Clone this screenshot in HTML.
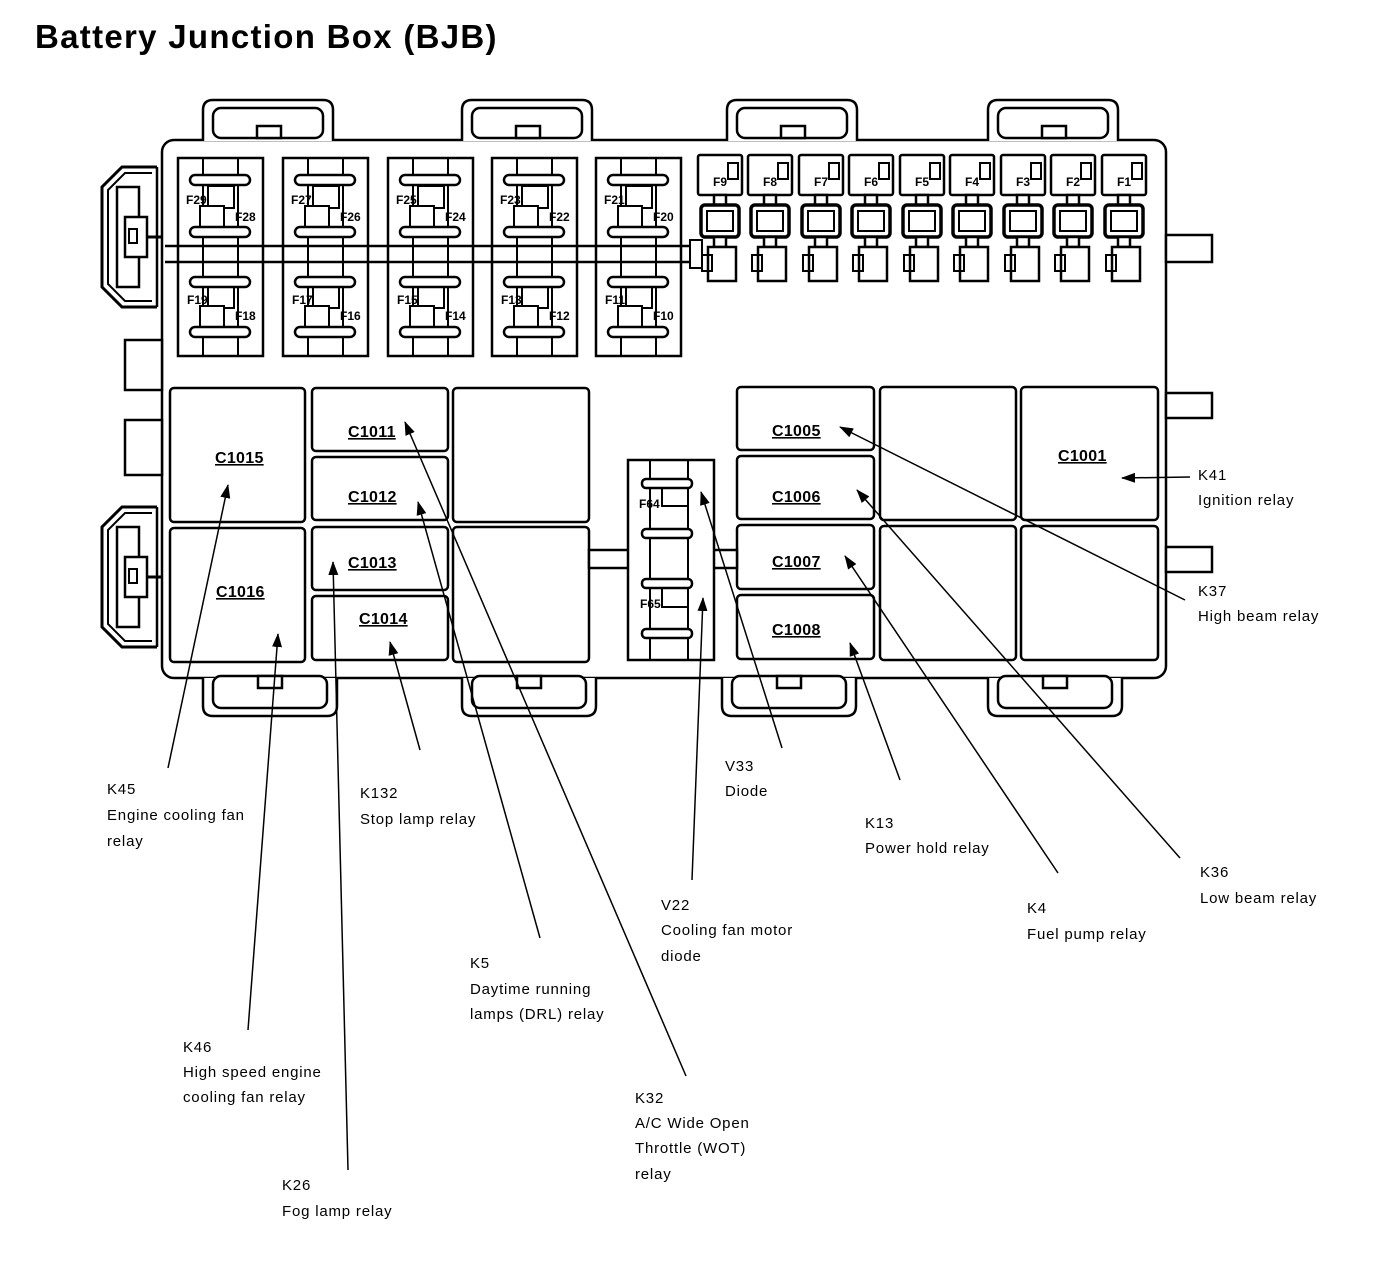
<!DOCTYPE html>
<html><head><meta charset="utf-8"><style>
html,body{margin:0;padding:0;background:#fff;}
svg{display:block;}
text{font-family:"Liberation Sans",Arial,sans-serif;fill:#000;}
.lb{font-size:15px;letter-spacing:0.8px;}
.cn{font-size:16px;font-weight:bold;letter-spacing:0.3px;}
.fs{font-size:12px;font-weight:bold;}
</style></head><body>
<svg width="1376" height="1266" viewBox="0 0 1376 1266" xmlns="http://www.w3.org/2000/svg">
<defs>
<marker id="ah" markerWidth="14" markerHeight="10" refX="13" refY="5" orient="auto" markerUnits="userSpaceOnUse">
<path d="M0,0 L14,5 L0,10 Z" fill="#000"/>
</marker>
<g id="lf">
<rect x="0" y="0" width="85" height="198" fill="#fff" stroke="#000" stroke-width="2.5"/>
<rect x="25" y="0" width="35" height="198" fill="none" stroke="#000" stroke-width="2"/>
<rect x="30" y="28" width="26" height="22" fill="#fff" stroke="#000" stroke-width="2"/>
<rect x="22" y="48" width="24" height="22" fill="#fff" stroke="#000" stroke-width="2"/>
<rect x="30" y="128" width="26" height="22" fill="#fff" stroke="#000" stroke-width="2"/>
<rect x="22" y="148" width="24" height="22" fill="#fff" stroke="#000" stroke-width="2"/>
<rect x="12" y="17" width="60" height="10" rx="5" fill="#fff" stroke="#000" stroke-width="2.5"/>
<rect x="12" y="69" width="60" height="10" rx="5" fill="#fff" stroke="#000" stroke-width="2.5"/>
<rect x="12" y="119" width="60" height="10" rx="5" fill="#fff" stroke="#000" stroke-width="2.5"/>
<rect x="12" y="169" width="60" height="10" rx="5" fill="#fff" stroke="#000" stroke-width="2.5"/>
</g>
<g id="rf">
<rect x="0" y="0" width="44" height="40" rx="2" fill="#fff" stroke="#000" stroke-width="2.5"/>
<rect x="16" y="40" width="12" height="10" fill="#fff" stroke="#000" stroke-width="2.5"/>
<rect x="3" y="50" width="38" height="32" rx="4" fill="#fff" stroke="#000" stroke-width="3.5"/>
<rect x="9" y="56" width="26" height="20" fill="#fff" stroke="#000" stroke-width="2"/>
<rect x="16" y="82" width="12" height="10" fill="#fff" stroke="#000" stroke-width="2.5"/>
<rect x="10" y="92" width="28" height="34" fill="#fff" stroke="#000" stroke-width="2.5"/>
<rect x="30" y="8" width="10" height="16" fill="none" stroke="#000" stroke-width="2"/>
<rect x="4" y="100" width="10" height="16" fill="none" stroke="#000" stroke-width="2"/>
</g>
<g id="ttab">
<path d="M0,41 L0,10 Q0,0 10,0 L120,0 Q130,0 130,10 L130,41" fill="#fff" stroke="#000" stroke-width="2.5"/>
<rect x="10" y="8" width="110" height="30" rx="8" fill="#fff" stroke="#000" stroke-width="2.5"/>
<rect x="54" y="26" width="24" height="12" fill="#fff" stroke="#000" stroke-width="2.5"/>
</g>
<g id="btab">
<path d="M0,0 L0,28 Q0,38 10,38 L124,38 Q134,38 134,28 L134,0" fill="#fff" stroke="#000" stroke-width="2.5"/>
<rect x="10" y="-2" width="114" height="32" rx="8" fill="#fff" stroke="#000" stroke-width="2.5"/>
<rect x="55" y="-2" width="24" height="12" fill="#fff" stroke="#000" stroke-width="2.5"/>
</g>
<g id="conn">
<path d="M60,0 L25,0 L5,20 L5,120 L25,140 L60,140" fill="#fff" stroke="#000" stroke-width="3"/>
<path d="M55,6 L28,6 L11,23 L11,117 L28,134 L55,134" fill="none" stroke="#000" stroke-width="2"/>
<rect x="20" y="20" width="22" height="100" fill="none" stroke="#000" stroke-width="2.5"/>
<rect x="28" y="50" width="22" height="40" fill="#fff" stroke="#000" stroke-width="2.5"/>
<rect x="32" y="62" width="8" height="14" fill="#fff" stroke="#000" stroke-width="2"/>
<line x1="50" y1="70" x2="65" y2="70" stroke="#000" stroke-width="3"/>
<line x1="60" y1="0" x2="60" y2="140" stroke="#000" stroke-width="2.5"/>
</g>
</defs>

<text x="35" y="48" style="font-size:33px;font-weight:bold;letter-spacing:1.3px">Battery Junction Box (BJB)</text>

<rect x="162" y="140" width="1004" height="538" rx="12" fill="#fff" stroke="#000" stroke-width="2.5"/>
<use href="#ttab" x="203" y="100"/>
<use href="#ttab" x="462" y="100"/>
<use href="#ttab" x="727" y="100"/>
<use href="#ttab" x="988" y="100"/>
<use href="#btab" x="203" y="678"/>
<use href="#btab" x="462" y="678"/>
<use href="#btab" x="722" y="678"/>
<use href="#btab" x="988" y="678"/>
<rect x="1166" y="235" width="46" height="27" fill="#fff" stroke="#000" stroke-width="2.5"/>
<rect x="1166" y="393" width="46" height="25" fill="#fff" stroke="#000" stroke-width="2.5"/>
<rect x="1166" y="547" width="46" height="25" fill="#fff" stroke="#000" stroke-width="2.5"/>
<use href="#conn" x="97" y="167"/>
<use href="#conn" x="97" y="507"/>
<rect x="125" y="340" width="37" height="50" fill="#fff" stroke="#000" stroke-width="2.5"/>
<rect x="125" y="420" width="37" height="55" fill="#fff" stroke="#000" stroke-width="2.5"/>

<use href="#lf" x="178" y="158"/>
<use href="#lf" x="283" y="158"/>
<use href="#lf" x="388" y="158"/>
<use href="#lf" x="492" y="158"/>
<use href="#lf" x="596" y="158"/>
<line x1="165" y1="246" x2="700" y2="246" stroke="#000" stroke-width="2.5"/>
<line x1="165" y1="262" x2="700" y2="262" stroke="#000" stroke-width="2.5"/>
<rect x="690" y="240" width="12" height="28" fill="#fff" stroke="#000" stroke-width="2"/>
<g class="fs">
<text x="186" y="204">F29</text><text x="235" y="221">F28</text><text x="187" y="304">F19</text><text x="235" y="320">F18</text>
<text x="291" y="204">F27</text><text x="340" y="221">F26</text><text x="292" y="304">F17</text><text x="340" y="320">F16</text>
<text x="396" y="204">F25</text><text x="445" y="221">F24</text><text x="397" y="304">F15</text><text x="445" y="320">F14</text>
<text x="500" y="204">F23</text><text x="549" y="221">F22</text><text x="501" y="304">F13</text><text x="549" y="320">F12</text>
<text x="604" y="204">F21</text><text x="653" y="221">F20</text><text x="605" y="304">F11</text><text x="653" y="320">F10</text>
</g>

<use href="#rf" x="698" y="155"/>
<use href="#rf" x="748" y="155"/>
<use href="#rf" x="799" y="155"/>
<use href="#rf" x="849" y="155"/>
<use href="#rf" x="900" y="155"/>
<use href="#rf" x="950" y="155"/>
<use href="#rf" x="1001" y="155"/>
<use href="#rf" x="1051" y="155"/>
<use href="#rf" x="1102" y="155"/>
<g class="fs">
<text x="713" y="186">F9</text><text x="763" y="186">F8</text><text x="814" y="186">F7</text><text x="864" y="186">F6</text><text x="915" y="186">F5</text><text x="965" y="186">F4</text><text x="1016" y="186">F3</text><text x="1066" y="186">F2</text><text x="1117" y="186">F1</text>
</g>

<g fill="#fff" stroke="#000" stroke-width="2.5">
<rect x="170" y="388" width="135" height="134" rx="4"/>
<rect x="170" y="528" width="135" height="134" rx="4"/>
<rect x="312" y="388" width="136" height="63" rx="4"/>
<rect x="312" y="457" width="136" height="63" rx="4"/>
<rect x="312" y="527" width="136" height="63" rx="4"/>
<rect x="312" y="596" width="136" height="64" rx="4"/>
<rect x="453" y="388" width="136" height="134" rx="4"/>
<rect x="453" y="527" width="136" height="135" rx="4"/>
<rect x="737" y="387" width="137" height="63" rx="4"/>
<rect x="737" y="456" width="137" height="63" rx="4"/>
<rect x="737" y="525" width="137" height="64" rx="4"/>
<rect x="737" y="595" width="137" height="64" rx="4"/>
<rect x="880" y="387" width="136" height="133" rx="4"/>
<rect x="880" y="526" width="136" height="134" rx="4"/>
<rect x="1021" y="387" width="137" height="133" rx="4"/>
<rect x="1021" y="526" width="137" height="134" rx="4"/>
</g>
<rect x="589" y="550" width="40" height="18" fill="#fff" stroke="#000" stroke-width="2.5"/>
<rect x="713" y="550" width="24" height="18" fill="#fff" stroke="#000" stroke-width="2.5"/>
<rect x="628" y="460" width="86" height="200" fill="#fff" stroke="#000" stroke-width="2.5"/>
<rect x="650" y="460" width="38" height="200" fill="none" stroke="#000" stroke-width="2"/>
<rect x="662" y="482" width="26" height="24" fill="#fff" stroke="#000" stroke-width="2"/>
<rect x="662" y="583" width="26" height="24" fill="#fff" stroke="#000" stroke-width="2"/>
<g fill="#fff" stroke="#000" stroke-width="2.5">
<rect x="642" y="479" width="50" height="9" rx="4"/>
<rect x="642" y="529" width="50" height="9" rx="4"/>
<rect x="642" y="579" width="50" height="9" rx="4"/>
<rect x="642" y="629" width="50" height="9" rx="4"/>
</g>
<text class="fs" x="639" y="508">F64</text>
<text class="fs" x="640" y="608">F65</text>

<g class="cn" text-decoration="underline">
<text x="215" y="463">C1015</text>
<text x="216" y="597">C1016</text>
<text x="348" y="437">C1011</text>
<text x="348" y="502">C1012</text>
<text x="348" y="568">C1013</text>
<text x="359" y="624">C1014</text>
<text x="772" y="436">C1005</text>
<text x="772" y="502">C1006</text>
<text x="772" y="567">C1007</text>
<text x="772" y="635">C1008</text>
<text x="1058" y="461">C1001</text>
</g>

<g stroke="#000" stroke-width="1.5" marker-end="url(#ah)" fill="none">
<line x1="168" y1="768" x2="228" y2="485"/>
<line x1="248" y1="1030" x2="278" y2="634"/>
<line x1="348" y1="1170" x2="333" y2="562"/>
<line x1="420" y1="750" x2="390" y2="642"/>
<line x1="540" y1="938" x2="418" y2="502"/>
<line x1="686" y1="1076" x2="405" y2="422"/>
<line x1="692" y1="880" x2="703" y2="598"/>
<line x1="782" y1="748" x2="701" y2="492"/>
<line x1="900" y1="780" x2="850" y2="643"/>
<line x1="1058" y1="873" x2="845" y2="556"/>
<line x1="1180" y1="858" x2="857" y2="490"/>
<line x1="1185" y1="600" x2="840" y2="427"/>
<line x1="1190" y1="477" x2="1122" y2="478"/>
</g>

<g class="lb">
<text x="107" y="794">K45</text><text x="107" y="820">Engine cooling fan</text><text x="107" y="846">relay</text>
<text x="360" y="798">K132</text><text x="360" y="824">Stop lamp relay</text>
<text x="725" y="771">V33</text><text x="725" y="796">Diode</text>
<text x="865" y="828">K13</text><text x="865" y="853">Power hold relay</text>
<text x="1200" y="877">K36</text><text x="1200" y="903">Low beam relay</text>
<text x="1027" y="913">K4</text><text x="1027" y="939">Fuel pump relay</text>
<text x="661" y="910">V22</text><text x="661" y="935">Cooling fan motor</text><text x="661" y="961">diode</text>
<text x="470" y="968">K5</text><text x="470" y="994">Daytime running</text><text x="470" y="1019">lamps (DRL) relay</text>
<text x="183" y="1052">K46</text><text x="183" y="1077">High speed engine</text><text x="183" y="1102">cooling fan relay</text>
<text x="635" y="1103">K32</text><text x="635" y="1128">A/C Wide Open</text><text x="635" y="1153">Throttle (WOT)</text><text x="635" y="1179">relay</text>
<text x="282" y="1190">K26</text><text x="282" y="1216">Fog lamp relay</text>
<text x="1198" y="480">K41</text><text x="1198" y="505">Ignition relay</text>
<text x="1198" y="596">K37</text><text x="1198" y="621">High beam relay</text>
</g>
</svg>
</body></html>
